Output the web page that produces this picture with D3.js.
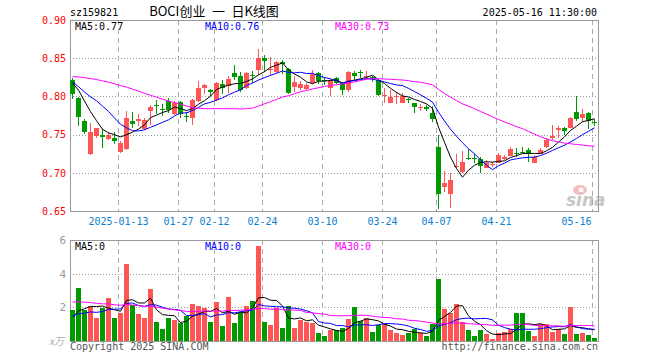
<!DOCTYPE html>
<html>
<head>
<meta charset="utf-8">
<script src="https://cdn.jsdelivr.net/npm/d3@7"></script>
<style>
	body { margin: 0; background: #fff; }
	svg { display: block; font-family: "DejaVu Sans Mono", monospace; font-size: 10px; }
</style>
</head>
<body>
<div id="chart"></div>
<script>
/* global d3 */

//	BEGIN data

// trading days shown, 2024-12-31 .. 2025-05-16
var dates = ["12-31","01-02","01-03","01-06","01-07","01-08","01-09","01-10","01-13","01-14",
	"01-15","01-16","01-17","01-20","01-21","01-22","01-23","01-24","01-27","02-05",
	"02-06","02-07","02-10","02-11","02-12","02-13","02-14","02-17","02-18","02-19",
	"02-20","02-21","02-24","02-25","02-26","02-27","02-28","03-03","03-04","03-05",
	"03-06","03-07","03-10","03-11","03-12","03-13","03-14","03-17","03-18","03-19",
	"03-20","03-21","03-24","03-25","03-26","03-27","03-28","03-31","04-01","04-02",
	"04-03","04-07","04-08","04-09","04-10","04-11","04-14","04-15","04-16","04-17",
	"04-18","04-21","04-22","04-23","04-24","04-25","04-28","04-29","04-30","05-06",
	"05-07","05-08","05-09","05-12","05-13","05-14","05-15","05-16"];

var open = [0.822,0.798,0.768,0.724,0.748,0.750,0.744,0.746,0.727,0.731,
	0.768,0.768,0.757,0.781,0.789,0.783,0.794,0.777,0.793,0.775,
	0.772,0.794,0.811,0.808,0.795,0.816,0.813,0.830,0.827,0.811,
	0.828,0.834,0.850,0.835,0.832,0.845,0.836,0.812,0.811,0.810,
	0.818,0.831,0.821,0.811,0.824,0.818,0.808,0.831,0.832,0.826,
	0.825,0.821,0.801,0.791,0.799,0.792,0.797,0.791,0.785,0.786,
	0.778,0.734,0.681,0.672,0.707,0.701,0.719,0.720,0.718,0.706,
	0.710,0.713,0.718,0.722,0.726,0.727,0.730,0.713,0.724,0.734,
	0.745,0.756,0.759,0.759,0.780,0.772,0.778,0.767];

var close = [0.803,0.773,0.754,0.753,0.758,0.747,0.750,0.741,0.739,0.772,
	0.764,0.770,0.769,0.786,0.788,0.782,0.782,0.792,0.777,0.774,
	0.795,0.811,0.815,0.806,0.818,0.811,0.823,0.825,0.808,0.831,
	0.827,0.850,0.846,0.836,0.845,0.842,0.804,0.819,0.816,0.815,
	0.829,0.820,0.820,0.821,0.818,0.808,0.832,0.827,0.830,0.827,
	0.823,0.802,0.802,0.799,0.800,0.800,0.795,0.786,0.786,0.784,
	0.771,0.672,0.686,0.690,0.709,0.714,0.718,0.718,0.709,0.713,
	0.712,0.723,0.721,0.731,0.725,0.726,0.724,0.721,0.730,0.743,
	0.748,0.759,0.755,0.772,0.771,0.777,0.768,0.766];

var high = [0.824,0.799,0.771,0.765,0.759,0.757,0.754,0.754,0.742,0.781,
	0.779,0.777,0.772,0.789,0.795,0.790,0.798,0.794,0.794,0.780,
	0.797,0.820,0.816,0.810,0.819,0.822,0.827,0.841,0.832,0.832,
	0.833,0.862,0.854,0.851,0.846,0.848,0.837,0.827,0.820,0.818,
	0.835,0.832,0.825,0.823,0.825,0.819,0.833,0.833,0.835,0.833,
	0.827,0.822,0.811,0.808,0.806,0.805,0.798,0.792,0.790,0.789,
	0.788,0.750,0.702,0.700,0.724,0.728,0.731,0.724,0.721,0.717,
	0.714,0.726,0.723,0.734,0.732,0.734,0.732,0.723,0.732,0.745,
	0.762,0.761,0.760,0.773,0.800,0.783,0.779,0.770];

var low = [0.797,0.761,0.751,0.723,0.745,0.732,0.743,0.738,0.726,0.730,
	0.758,0.761,0.756,0.762,0.777,0.775,0.778,0.776,0.772,0.767,
	0.762,0.793,0.803,0.801,0.794,0.803,0.805,0.822,0.806,0.810,
	0.817,0.828,0.832,0.827,0.831,0.829,0.803,0.806,0.808,0.809,
	0.816,0.816,0.815,0.800,0.816,0.802,0.806,0.821,0.824,0.822,
	0.819,0.801,0.791,0.791,0.790,0.791,0.792,0.778,0.781,0.781,
	0.767,0.653,0.675,0.654,0.706,0.700,0.717,0.713,0.700,0.706,
	0.707,0.714,0.717,0.722,0.721,0.724,0.714,0.714,0.725,0.733,
	0.743,0.746,0.749,0.758,0.768,0.767,0.757,0.761];

// volume, in millions of shares
var volume = [1.83,3.14,1.83,2.10,1.35,1.95,2.54,1.35,1.65,4.57,
	2.14,1.59,1.35,3.08,1.11,0.70,1.39,1.23,1.07,1.47,
	2.18,2.06,1.99,1.11,2.30,0.87,2.60,1.05,1.75,2.06,
	2.36,5.64,1.11,0.93,1.99,0.76,2.06,0.80,1.25,1.13,
	1.05,0.46,0.28,0.68,0.68,0.76,1.29,2.00,1.17,1.35,
	0.52,0.93,0.99,0.64,0.46,0.34,0.46,0.70,0.46,0.28,
	0.99,3.67,1.89,1.65,2.18,1.11,0.64,0.28,0.64,0.40,
	0.10,0.46,0.52,0.70,1.65,1.65,0.58,0.28,0.99,0.99,
	0.52,0.70,0.40,2.00,0.40,0.46,0.34,0.16];

// closes and volumes of the 29 sessions before the window (only feed the moving averages)
var priorClose = [0.780,0.785,0.790,0.795,0.800,0.800,0.805,0.810,
	0.830,0.845,0.850,0.855,0.860,0.865,0.860,0.855,0.850,0.845,0.845,0.860,
	0.835,0.825,0.815,0.810,0.8175,0.820,0.825,0.822,0.8175];
var priorVolume = [2.6,2.9,2.7,2.8,2.75,2.7,2.76,2.7,
	3.2,3.0,2.6,2.9,2.5,2.8,2.7,2.6,2.9,2.5,2.7,2.6,
	1.6,1.5,1.4,1.6,1.5,1.3,1.2,1.4,1.37];

var priceTicks = [0.65, 0.70, 0.75, 0.80, 0.85, 0.90];
var volumeTicks = [2, 4, 6];
var tickDates = ["01-13","01-27","02-12","02-24","03-10","03-24","04-07","04-21","05-16"];
var tickLabels = ["2025-01-13","01-27","02-12","02-24","03-10","03-24","04-07","04-21","05-16"];

//	END data

var width = 660, height = 360;
var left = 70, right = 598;
var priceTop = 20, priceBottom = 211;
var volTop = 240, volBottom = 341;
var red = "#ff5555", green = "#009900";

function movingAvg(prior, values, n) {
	var all = prior.concat(values);
	return values.map(function(d, i) {
		var j = i + prior.length;
		return d3.mean(all.slice(j - n + 1, j + 1));
	});
}

var n = dates.length;
var x = d3.scaleLinear().domain([0, n]).range([left, right]);
var yPrice = d3.scaleLinear().domain([0.65, 0.90]).range([priceBottom, priceTop]);
var yVol = d3.scaleLinear().domain([0, 6]).range([volBottom, volTop]);

function isUp(i) { return close[i] >= open[i]; }

var svg = d3.select("#chart")
	.append("svg")
	.attr("width", width)
	.attr("height", height);

//	BEGIN frame and grid

var tickIdx = tickDates.map(function(d) { return dates.indexOf(d); });

function panelGrid(top, bottom, yScale, hTicks) {
	var g = svg.append("g");
	g.selectAll(".hgrid")
		.data(hTicks)
		.enter().append("line")
		.attr("x1", left).attr("x2", right)
		.attr("y1", function(d) { return Math.round(yScale(d)) + 0.5; })
		.attr("y2", function(d) { return Math.round(yScale(d)) + 0.5; })
		.style("stroke", "#999")
		.style("stroke-dasharray", "1,2");
	g.selectAll(".vgrid")
		.data(tickIdx)
		.enter().append("line")
		.attr("x1", function(d) { return x(d) + 0.5; })
		.attr("x2", function(d) { return x(d) + 0.5; })
		.attr("y1", top).attr("y2", bottom)
		.style("stroke", "#aaa")
		.style("stroke-dasharray", "5,4");
	g.append("rect")
		.attr("x", left + 0.5).attr("y", top + 0.5)
		.attr("width", right - left).attr("height", bottom - top)
		.style("fill", "none")
		.style("stroke", "#999");
}

panelGrid(priceTop, priceBottom, yPrice, [0.70, 0.75, 0.80, 0.85]);
panelGrid(volTop, volBottom, yVol, [2, 4]);

//	END frame and grid

//	BEGIN axes

var priceAxis = svg.append("g")
	.attr("transform", "translate(" + left + ",0)")
	.call(d3.axisLeft(yPrice).tickValues(priceTicks).tickSize(0).tickPadding(4)
		.tickFormat(d3.format(".2f")));
priceAxis.select(".domain").remove();
priceAxis.selectAll("text")
	.attr("fill", "#ff0000")
	.style("font-family", "DejaVu Sans Mono")
	.style("font-size", "10px");

var volAxis = svg.append("g")
	.attr("transform", "translate(" + left + ",0)")
	.call(d3.axisLeft(yVol).tickValues(volumeTicks).tickSize(0).tickPadding(4)
		.tickFormat(d3.format("d")));
volAxis.select(".domain").remove();
volAxis.selectAll("text")
	.attr("fill", "#999")
	.style("font-family", "DejaVu Sans Mono")
	.style("font-size", "11px");

var dateAxis = svg.append("g")
	.attr("transform", "translate(0," + priceBottom + ")")
	.call(d3.axisBottom(x).tickValues(tickIdx).tickSize(0).tickPadding(7)
		.tickFormat(function(d, i) { return tickLabels[i]; }));
dateAxis.select(".domain").remove();
dateAxis.selectAll("text")
	.attr("fill", "#0b7fd2")
	.style("font-family", "DejaVu Sans Mono")
	.style("font-size", "10px")
	.each(function(d) {
		// keep the last label inside the frame
		var w = this.getComputedTextLength();
		if (x(d) + w / 2 > right - 6) {
			d3.select(this).attr("text-anchor", "end").attr("x", right - 7 - x(d));
		}
	});

//	END axes

//	BEGIN candles

var candle = svg.append("g")
	.style("shape-rendering", "crispEdges")
	.selectAll(".candle")
	.data(d3.range(n))
	.enter().append("g")
	.attr("class", "candle")
	.style("fill", function(i) { return isUp(i) ? red : green; });

candle.append("rect")
	.attr("x", function(i) { return x(i) + 2; })
	.attr("y", function(i) { return Math.round(yPrice(high[i])); })
	.attr("width", 1)
	.attr("height", function(i) { return Math.max(1, Math.round(yPrice(low[i])) - Math.round(yPrice(high[i]))); });

candle.append("rect")
	.attr("x", function(i) { return x(i); })
	.attr("y", function(i) { return Math.round(yPrice(Math.max(open[i], close[i]))); })
	.attr("width", 5)
	.attr("height", function(i) {
		return Math.max(1, Math.round(yPrice(Math.min(open[i], close[i]))) - Math.round(yPrice(Math.max(open[i], close[i]))));
	});

svg.append("g")
	.style("shape-rendering", "crispEdges")
	.selectAll(".vol")
	.data(d3.range(n))
	.enter().append("rect")
	.attr("class", "vol")
	.attr("x", function(i) { return x(i); })
	.attr("y", function(i) { return Math.round(yVol(volume[i])); })
	.attr("width", 5)
	.attr("height", function(i) { return volBottom - Math.round(yVol(volume[i])); })
	.style("fill", function(i) { return isUp(i) ? red : green; });

//	END candles

//	BEGIN moving averages

var maDefs = [
	{ n: 5, color: "#000000" },
	{ n: 10, color: "#0000ff" },
	{ n: 30, color: "#ff00ff" }
];

function drawMA(prior, values, yScale) {
	maDefs.forEach(function(m) {
		var ma = movingAvg(prior, values, m.n);
		var line = d3.line()
			.x(function(d, i) { return x(i) + 2.5; })
			.y(function(d) { return yScale(d); });
		svg.append("path")
			.datum(ma)
			.attr("d", line)
			.style("fill", "none")
			.style("stroke", m.color)
			.style("stroke-width", 1);
	});
}

drawMA(priorClose, close, yPrice);
drawMA(priorVolume, volume, yVol);

//	END moving averages

//	BEGIN texts

var ma5 = movingAvg(priorClose, close, 5);
var ma10 = movingAvg(priorClose, close, 10);
var ma30 = movingAvg(priorClose, close, 30);

svg.append("text").attr("x", 70).attr("y", 16).text("sz159821").style("fill", "#000");
svg.append("text").attr("x", 214).attr("y", 16)
	.attr("text-anchor", "middle")
	.style("font-family", "'Noto Sans CJK SC', sans-serif")
	.style("font-size", "13px")
	.text("BOCI创业\u2002一\u2002日K线图");
svg.append("text").attr("x", 597).attr("y", 16).attr("text-anchor", "end")
	.text("2025-05-16 11:30:00");

var legend = [
	{ x: 75, color: "#000", main: "MA5:" + d3.format(".2f")(ma5[n - 1]), vol: "MA5:0" },
	{ x: 205, color: "#0000ff", main: "MA10:" + d3.format(".2f")(ma10[n - 1]), vol: "MA10:0" },
	{ x: 335, color: "#ff00ff", main: "MA30:" + d3.format(".2f")(ma30[n - 1]), vol: "MA30:0" }
];
legend.forEach(function(l) {
	svg.append("text").attr("x", l.x).attr("y", 30).style("fill", l.color).text(l.main);
	svg.append("text").attr("x", l.x).attr("y", 250).style("fill", l.color).text(l.vol);
});

svg.append("text").attr("x", 70).attr("y", 350).style("fill", "#555").text("Copyright 2025 SINA.COM");
svg.append("text").attr("x", 598).attr("y", 350).attr("text-anchor", "end")
	.style("fill", "#555").text("http://finance.sina.com.cn");
svg.append("text").attr("x", 49).attr("y", 345)
	.style("font-family", "'Noto Sans CJK SC', sans-serif")
	.style("font-size", "10px")
	.style("font-style", "italic")
	.style("fill", "#aaa").text("x万");

// sina watermark
var logo = svg.append("g").attr("transform", "translate(566,186)").style("opacity", 0.55);
logo.append("ellipse").attr("cx", 14).attr("cy", 4).attr("rx", 7).attr("ry", 5).style("fill", "#e88");
logo.append("circle").attr("cx", 15).attr("cy", 4).attr("r", 2.5).style("fill", "#fff");
logo.append("text").attr("x", 0).attr("y", 20)
	.style("font-family", "'DejaVu Sans', sans-serif")
	.style("font-size", "17px")
	.style("font-style", "italic")
	.style("font-weight", "bold")
	.style("fill", "#999").text("sina");

//	END texts
</script>
</body>
</html>
